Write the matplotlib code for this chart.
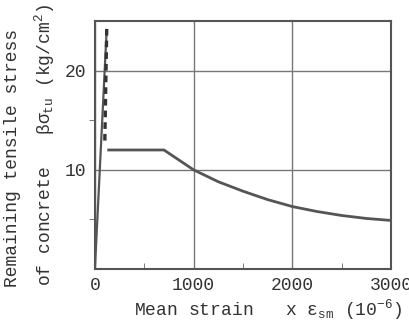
import numpy as np
import matplotlib.pyplot as plt

plt.rcParams['font.family'] = ['Liberation Mono', 'DejaVu Sans Mono']
plt.rcParams['mathtext.fontset'] = 'custom'
plt.rcParams['mathtext.rm'] = 'Liberation Mono'
plt.rcParams['mathtext.it'] = 'Liberation Mono'

# data
rise_x = [0, 120]
rise_y = [0, 24.2]
drop_x = [120, 100]
drop_y = [24.2, 12.5]
soft_x = [140, 700, 1000, 1250, 1500, 1750, 2000, 2250, 2500, 2750, 3000]
soft_y = [12.0, 12.0, 10.0, 8.8, 7.85, 7.0, 6.3, 5.8, 5.4, 5.1, 4.9]

grey = '#555555'

fig = plt.figure(figsize=(4.09, 3.23), dpi=100)
ax = fig.add_axes([0.232, 0.167, 0.724, 0.768])

ax.plot(rise_x, rise_y, color=grey, lw=1.6, solid_capstyle='butt')
ax.plot(drop_x, drop_y, color='#333333', lw=2.4, ls=(0, (2, 1.5)))
ax.plot(soft_x, soft_y, color=grey, lw=2.0)

ax.set_xlim(0, 3000)
ax.set_ylim(0, 25)
ax.set_xticks([0, 1000, 2000, 3000])
ax.set_yticks([10, 20])
ax.set_xticks([500, 1500, 2500], minor=True)
ax.set_yticks([5, 15], minor=True)
ax.grid(True, which='major', color='#777777', lw=1.0)
ax.tick_params(which='major', length=0, labelsize=13, colors='#333333', pad=6)
ax.tick_params(axis='x', which='minor', direction='in', length=4, color='#666666')
ax.tick_params(axis='y', which='minor', direction='out', length=4, color='#666666')
for s in ax.spines.values():
    s.set_color('#555555')
    s.set_linewidth(1.5)

fig.text(0.655, 0.04, r'Mean strain   x $\varepsilon_{\rm sm}$ $(10^{-6})$',
         ha='center', va='center', fontsize=13, color='#333333')
fig.text(0.03, 0.51, 'Remaining tensile stress', rotation=90,
         ha='center', va='center', fontsize=13, color='#333333')
fig.text(0.11, 0.55, r'of concrete   $\beta\sigma_{\rm tu}$ $({\rm kg/cm}^2)$', rotation=90,
         ha='center', va='center', fontsize=13, color='#333333')

plt.savefig('out.png', dpi=100)
